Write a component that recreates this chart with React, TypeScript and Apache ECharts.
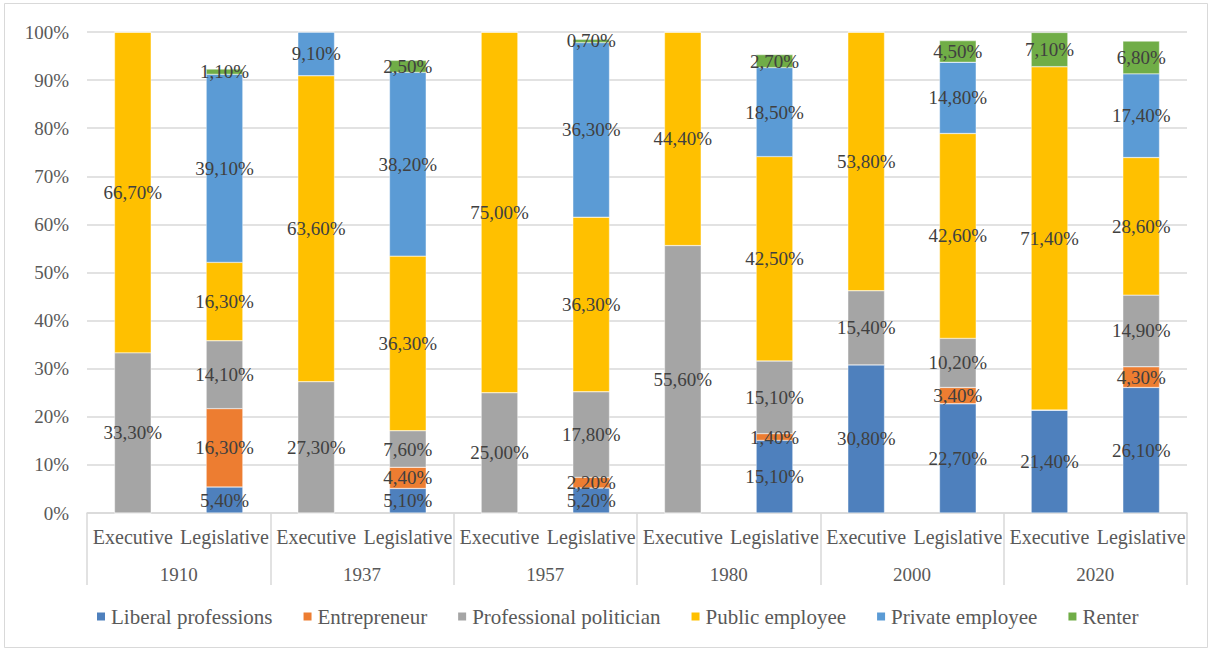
import React, { useEffect, useRef } from "react";
import * as echarts from "echarts";

const years = ["1910", "1937", "1957", "1980", "2000", "2020"];
const branches = ["Executive", "Legislative"];
const categories = years.flatMap(() => branches);
const yTicks = [0, 10, 20, 30, 40, 50, 60, 70, 80, 90, 100];

const seriesNames = [
  "Liberal professions",
  "Entrepreneur",
  "Professional politician",
  "Public employee",
  "Private employee",
  "Renter",
];
const seriesColors = ["#4E80BD", "#ED7D31", "#A5A5A5", "#FFC000", "#5B9BD5", "#70AD47"];

// order: 1910 Exe, 1910 Leg, 1937 Exe, 1937 Leg, 1957 Exe, 1957 Leg, 1980 Exe, 1980 Leg, 2000 Exe, 2000 Leg, 2020 Exe, 2020 Leg
const liberalProfessions = [0, 5.4, 0, 5.1, 0, 5.2, 0, 15.1, 30.8, 22.7, 21.4, 26.1];
const entrepreneur = [0, 16.3, 0, 4.4, 0, 2.2, 0, 1.4, 0, 3.4, 0, 4.3];
const professionalPolitician = [33.3, 14.1, 27.3, 7.6, 25.0, 17.8, 55.6, 15.1, 15.4, 10.2, 0, 14.9];
const publicEmployee = [66.7, 16.3, 63.6, 36.3, 75.0, 36.3, 44.4, 42.5, 53.8, 42.6, 71.4, 28.6];
const privateEmployee = [0, 39.1, 9.1, 38.2, 0, 36.3, 0, 18.5, 0, 14.8, 0, 17.4];
const renter = [0, 1.1, 0, 2.5, 0, 0.7, 0, 2.7, 0, 4.5, 7.1, 6.8];

const seriesValues = [
  liberalProfessions,
  entrepreneur,
  professionalPolitician,
  publicEmployee,
  privateEmployee,
  renter,
];

const FONT = "Liberation Serif, Times New Roman, serif";

export default function App() {
  const ref = useRef<HTMLDivElement>(null);

  useEffect(() => {
    if (!ref.current) return;
    const chart = echarts.init(ref.current, null, { renderer: "svg" });
    chart.setOption({
      animation: false,
      backgroundColor: "#ffffff",
      textStyle: { fontFamily: FONT },
      graphic: [
        {
          type: "rect",
          shape: { x: 4.5, y: 3.5, width: 1203, height: 644 },
          style: { fill: "none", stroke: "#d9d9d9", lineWidth: 1 },
          silent: true,
        },
      ],
      grid: { left: 87, right: 25, top: 32, bottom: 139, containLabel: false },
      legend: {
        top: 601,
        left: 90,
        icon: "rect",
        itemWidth: 10,
        itemHeight: 10,
        itemGap: 29,
        textStyle: { fontFamily: FONT, fontSize: 21, color: "#595959" },
        data: seriesNames,
      },
      xAxis: [
        {
          type: "category",
          data: categories,
          position: "bottom",
          axisLine: { show: true, lineStyle: { color: "#d9d9d9", width: 1.5 } },
          axisTick: { show: false },
          axisLabel: {
            interval: 0,
            margin: 14,
            fontFamily: FONT,
            fontSize: 20,
            color: "#595959",
          },
        },
        {
          type: "category",
          data: years,
          position: "bottom",
          axisLine: { show: false },
          axisTick: { show: true, length: 72, lineStyle: { color: "#d9d9d9", width: 1.5 } },
          axisLabel: {
            interval: 0,
            margin: 52,
            fontFamily: FONT,
            fontSize: 19,
            color: "#595959",
          },
        },
      ],
      yAxis: {
        type: "value",
        min: yTicks[0],
        max: yTicks[yTicks.length - 1],
        interval: yTicks[1] - yTicks[0],
        axisLine: { show: false },
        axisTick: { show: false },
        splitLine: { lineStyle: { color: "#d9d9d9", width: 1.5 } },
        axisLabel: {
          margin: 18,
          formatter: "{value}%",
          fontFamily: FONT,
          fontSize: 19,
          color: "#595959",
        },
      },
      series: seriesNames.map((name, i) => ({
        name,
        type: "bar",
        stack: "total",
        xAxisIndex: 0,
        barWidth: "40%",
        data: seriesValues[i],
        itemStyle: { color: seriesColors[i], borderColor: "#ffffff", borderWidth: 0.4 },
        label: {
          show: true,
          position: "inside",
          fontFamily: FONT,
          fontSize: 19,
          color: "#404040",
          formatter: (p: any) =>
            p.value ? Number(p.value).toFixed(2).replace(".", ",") + "%" : "",
        },
      })),
    });
    return () => chart.dispose();
  }, []);

  return (
    <div
      ref={ref}
      style={{ position: "fixed", left: 0, top: 0, width: 1212, height: 652 }}
    />
  );
}
